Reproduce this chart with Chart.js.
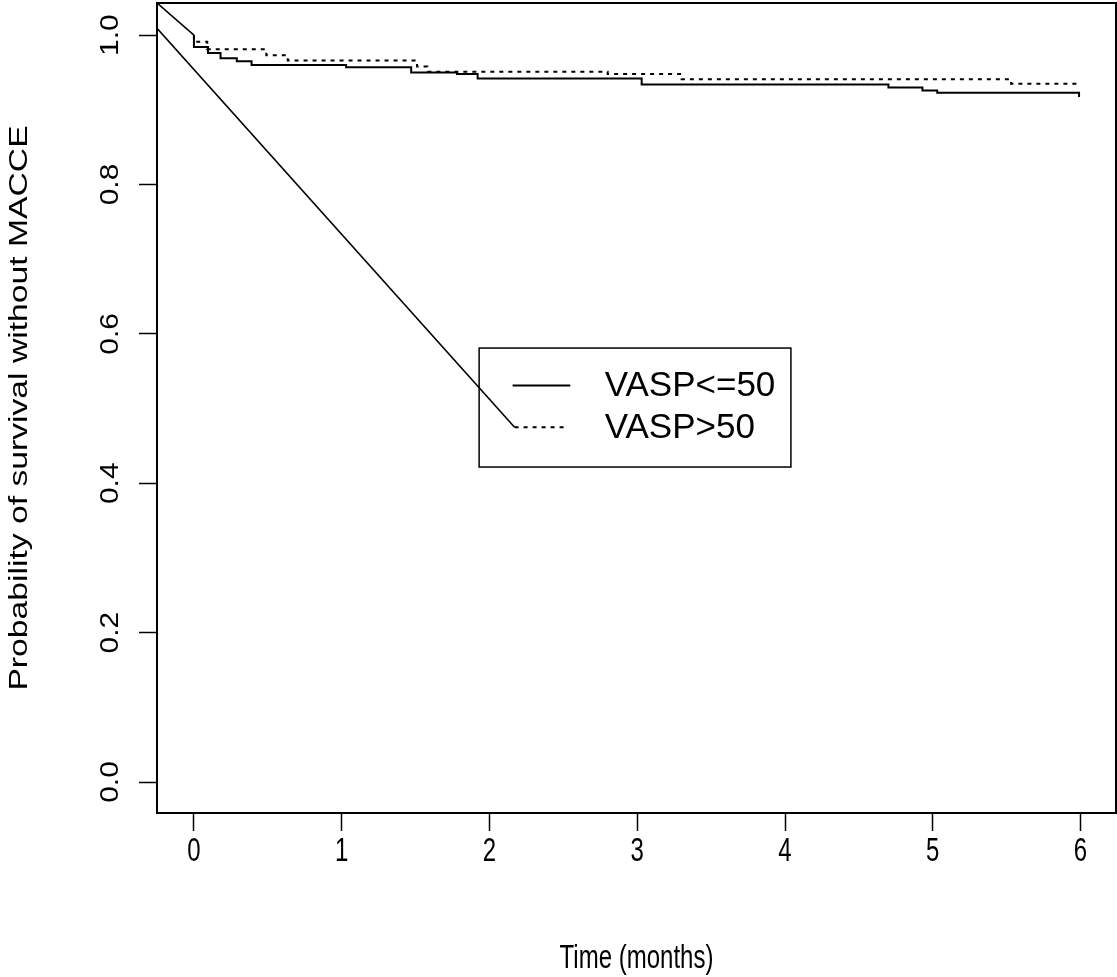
<!DOCTYPE html>
<html>
<head>
<meta charset="utf-8">
<title>Survival without MACCE</title>
<script src="https://cdn.jsdelivr.net/npm/chart.js@4.4.1/dist/chart.umd.min.js"></script>
<style>
  html, body { margin: 0; padding: 0; background: #fff; }
</style>
</head>
<body>
<canvas id="kmChart" width="1117" height="977"></canvas>
<script>
/* ============================================================
   Kaplan-Meier: survival without MACCE by VASP group
   ============================================================ */

// ── Data ─────────────────────────────────────────────────────
const lowTimes  = [0, 0, 0.095, 0.18, 0.29, 0.39, 1.03, 1.47, 1.78, 1.92, 3.03, 4.70, 4.93, 5.03, 5.99];
const lowSurv   = [1.0, 0.984, 0.976, 0.969, 0.965, 0.960, 0.957, 0.950, 0.948, 0.942, 0.934, 0.930, 0.926, 0.923, 0.917];

const highTimes = [0, 0, 0.09, 0.49, 0.635, 1.51, 1.58, 2.80, 3.30, 5.53, 5.99];
const highSurv  = [1.0, 0.991, 0.981, 0.973, 0.966, 0.958, 0.951, 0.948, 0.941, 0.935, 0.935];

// stray straight segments that show up in the original plot
const strayAX = [-0.25, 0];
const strayAY = [1.043, 1.0];
const strayBX = [-0.25, 2.17];
const strayBY = [1.009, 0.475];

const xTicks = [0, 1, 2, 3, 4, 5, 6];
const yTicks = [0, 0.2, 0.4, 0.6, 0.8, 1.0];

const legendLabels = ['VASP<=50', 'VASP>50'];
const xTitle = 'Time (months)';
const yTitle = 'Probability of survival without MACCE';

const FONT = 'Liberation Sans, Arial, Helvetica, sans-serif';
const DOTTED = [4, 5];

const toPoints = (xs, ys) => xs.map((x, i) => ({ x, y: ys[i] }));

// ── Plot box + legend drawn on top ───────────────────────────
const boxAndLegend = {
  id: 'boxAndLegend',
  afterDraw(chart) {
    const { ctx, chartArea: a, scales: { x, y } } = chart;
    ctx.save();
    ctx.strokeStyle = '#000';
    ctx.lineWidth = 2;
    ctx.strokeRect(a.left, a.top, a.right - a.left, a.bottom - a.top);

    // legend box, anchored in data units
    const L = x.getPixelForValue(1.93), R = x.getPixelForValue(4.04);
    const T = y.getPixelForValue(0.581), B = y.getPixelForValue(0.4217);
    ctx.lineWidth = 1.5;
    ctx.strokeRect(L, T, R - L, B - T);

    const rows = [y.getPixelForValue(0.531), y.getPixelForValue(0.475)];
    const lineL = x.getPixelForValue(2.17), lineR = x.getPixelForValue(2.52);
    ctx.lineWidth = 2;
    rows.forEach((ry, i) => {
      ctx.setLineDash(i === 0 ? [] : DOTTED);
      ctx.beginPath();
      ctx.moveTo(lineL - (i === 0 ? 2 : 0), ry);
      ctx.lineTo(lineR + (i === 0 ? 4 : 0), ry);
      ctx.stroke();
    });
    ctx.setLineDash([]);
    ctx.fillStyle = '#000';
    ctx.font = `35px ${FONT}`;
    ctx.textBaseline = 'middle';
    ctx.textAlign = 'left';
    const textX = x.getPixelForValue(2.78);
    rows.forEach((ry, i) => ctx.fillText(legendLabels[i], textX, ry + 1));
    ctx.restore();
  },
};

// ── tick labels and axis titles: the source figure is stretched ──
const stretchedText = {
  id: 'stretchedText',
  afterDraw(chart) {
    const { ctx, chartArea: a, scales: { x, y } } = chart;
    ctx.save();
    ctx.fillStyle = '#000';
    ctx.textAlign = 'center';
    ctx.textBaseline = 'alphabetic';
    ctx.font = `24px ${FONT}`;
    xTicks.forEach(v => {
      ctx.save();
      ctx.translate(x.getPixelForValue(v), a.bottom + 48);
      ctx.scale(1, 1.4);
      ctx.fillText(String(v), 0, 0);
      ctx.restore();
    });

    // y tick labels, rotated, read bottom to top
    ctx.font = `26px ${FONT}`;
    yTicks.forEach(v => {
      ctx.save();
      ctx.translate(a.left - 39, y.getPixelForValue(v));
      ctx.rotate(-Math.PI / 2);
      ctx.scale(1.15, 1);
      ctx.fillText(v.toFixed(1), 0, 0);
      ctx.restore();
    });

    ctx.font = `24px ${FONT}`;
    ctx.save();
    ctx.translate((a.left + a.right) / 2, a.bottom + 155);
    ctx.scale(1, 1.35);
    ctx.fillText(xTitle, 0, 0);
    ctx.restore();

    ctx.save();
    ctx.font = `25px ${FONT}`;
    ctx.translate(27, (a.top + a.bottom) / 2);
    ctx.rotate(-Math.PI / 2);
    ctx.scale(1.347, 1);
    ctx.fillText(yTitle, 0, 0);
    ctx.restore();
    ctx.restore();
  },
};

const lineStyle = { borderColor: '#000', borderWidth: 2, pointRadius: 0, fill: false };

new Chart(document.getElementById('kmChart'), {
  type: 'line',
  data: {
    datasets: [
      { ...lineStyle, label: 'VASP<=50', data: toPoints(lowTimes, lowSurv), stepped: true },
      { ...lineStyle, label: 'VASP>50',  data: toPoints(highTimes, highSurv), stepped: true, borderDash: DOTTED },
      { ...lineStyle, label: 'strayA', data: toPoints(strayAX, strayAY), borderWidth: 1.6 },
      { ...lineStyle, label: 'strayB', data: toPoints(strayBX, strayBY), borderWidth: 1.6 },
    ],
  },
  options: {
    responsive: false,
    animation: false,
    layout: { padding: { top: 3, right: 1, left: 0, bottom: 0 } },
    plugins: { legend: { display: false }, tooltip: { enabled: false } },
    scales: {
      x: {
        type: 'linear',
        min: -0.25, max: 6.24,
        afterBuildTicks: s => { s.ticks = xTicks.map(v => ({ value: v })); },
        afterFit: s => { s.height = 164; s.paddingLeft = 0; s.paddingRight = 0; },
        ticks: { display: false },
        grid: { drawOnChartArea: false, drawTicks: true, tickLength: 18, tickColor: '#000', tickWidth: 1.5 },
        border: { display: false },
      },
      y: {
        type: 'linear',
        min: -0.0415, max: 1.043,
        afterBuildTicks: s => { s.ticks = yTicks.map(v => ({ value: v })); },
        afterFit: s => { s.width = 157; s.paddingTop = 0; s.paddingBottom = 0; },
        ticks: { display: false },
        grid: { drawOnChartArea: false, drawTicks: true, tickLength: 18, tickColor: '#000', tickWidth: 1.5 },
        border: { display: false },
      },
    },
  },
  plugins: [boxAndLegend, stretchedText],
});
</script>
</body>
</html>
